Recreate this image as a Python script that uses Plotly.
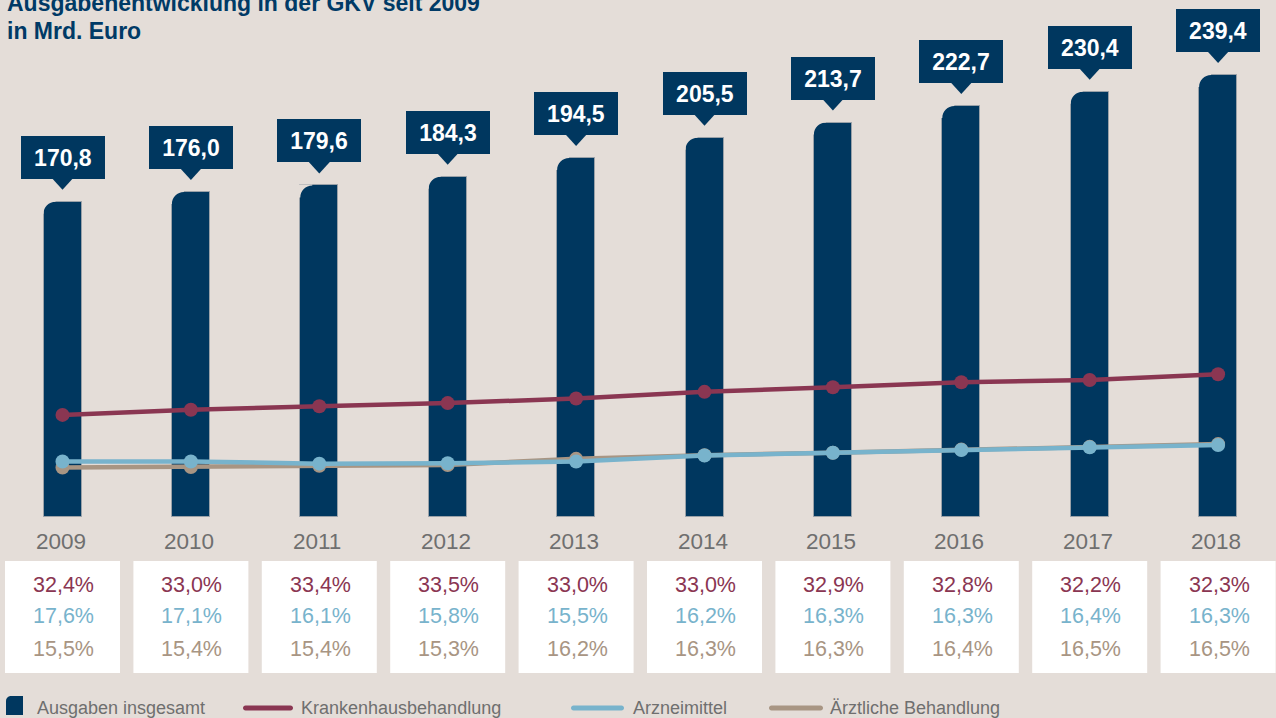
import plotly.graph_objects as go

# ---------------- data ----------------
years = [2009, 2010, 2011, 2012, 2013, 2014, 2015, 2016, 2017, 2018]
totals = [170.8, 176.0, 179.6, 184.3, 194.5, 205.5, 213.7, 222.7, 230.4, 239.4]
krankenhaus = [55.3, 58.1, 60.0, 61.7, 64.2, 67.8, 70.3, 73.0, 74.2, 77.3]
arzneimittel = [30.1, 30.1, 28.9, 29.1, 30.1, 33.3, 34.8, 36.3, 37.8, 39.0]
aerztlich = [26.8, 27.1, 27.7, 28.2, 31.5, 33.5, 34.8, 36.5, 38.0, 39.5]
pct_krankenhaus = [32.4, 33.0, 33.4, 33.5, 33.0, 33.0, 32.9, 32.8, 32.2, 32.3]
pct_arznei = [17.6, 17.1, 16.1, 15.8, 15.5, 16.2, 16.3, 16.3, 16.4, 16.3]
pct_aerztlich = [15.5, 15.4, 15.4, 15.3, 16.2, 16.3, 16.3, 16.4, 16.5, 16.5]
series_names = ["Ausgaben insgesamt", "Krankenhausbehandlung", "Arzneimittel", "Ärztliche Behandlung"]
title_lines = ["Ausgabenentwicklung in der GKV seit 2009", "in Mrd. Euro"]

# ---------------- style ----------------
W, H = 1276, 718
BG = "#e4ddd8"
NAVY = "#00375f"
MAROON = "#8a3652"
BLUE = "#78b3cc"
TAN = "#a89583"
GREY = "#6f6f6f"
FONT = "Liberation Sans, Arial, Helvetica, sans-serif"

def de(v, d=1):
    return f"{v:.{d}f}".replace(".", ",")

PX_PER_YEAR = 128.4
X0_PX = 62.5
x_range = [years[0] - X0_PX / PX_PER_YEAR, years[0] + (W - X0_PX) / PX_PER_YEAR]
ZERO_PX = 517
PX_PER_UNIT = 1.846
y_domain = [1 - ZERO_PX / H, 1]
y_range = [0, ZERO_PX / PX_PER_UNIT]

def py(px):
    return 1 - px / H

def pxx(px):
    return px / W

fig = go.Figure()

fig.add_trace(go.Bar(
    x=years, y=totals, width=38 / PX_PER_YEAR, name=series_names[0],
    marker=dict(color=NAVY, line=dict(color="#9aa1a8", width=1)),
    showlegend=False, hoverinfo="x+y"))

for vals, col, nm in [(krankenhaus, MAROON, series_names[1]),
                      (aerztlich, TAN, series_names[3]),
                      (arzneimittel, BLUE, series_names[2])]:
    fig.add_trace(go.Scatter(
        x=years, y=vals, mode="lines+markers", name=nm,
        line=dict(color=col, width=4.5),
        marker=dict(color=col, size=14),
        showlegend=False))

shapes = []
annotations = []

# bars: rounded top-left corner mask, value boxes with pointer
for yr, tot in zip(years, totals):
    shapes.append(dict(type="path", xref="x", yref="y", xsizemode="pixel", ysizemode="pixel",
                       xanchor=yr, yanchor=tot,
                       path="M-21,1 L-7,1 L-7,0 C-13.63,0 -19,-5.37 -19,-12 L-21,-12 Z",
                       fillcolor=BG, line=dict(width=0), layer="above"))
    shapes.append(dict(type="path", xref="x", yref="y", xsizemode="pixel", ysizemode="pixel",
                       xanchor=yr, yanchor=tot,
                       path="M-10.5,23.5 L10.5,23.5 L0,12 Z",
                       fillcolor=NAVY, line=dict(width=0), layer="above"))
    annotations.append(dict(x=yr, y=tot, xref="x", yref="y", yanchor="bottom", yshift=23,
                            text=f"<b>{de(tot)}</b>", showarrow=False,
                            width=84, height=43, bgcolor=NAVY, borderpad=0, borderwidth=0,
                            font=dict(family=FONT, size=23, color="white")))

# year labels and percentage table
for i, yr in enumerate(years):
    annotations.append(dict(x=yr, y=py(541), xref="x", yref="paper", yanchor="middle", xshift=-2,
                            text=str(yr), showarrow=False,
                            font=dict(family=FONT, size=22.5, color=GREY)))
    shapes.append(dict(type="rect", xref="x", yref="paper",
                       x0=yr - 57.5 / PX_PER_YEAR, x1=yr + 57.5 / PX_PER_YEAR,
                       y0=py(673), y1=py(561), fillcolor="white", line=dict(width=0), layer="below"))
    for vals, col, ypx in [(pct_krankenhaus, MAROON, 585), (pct_arznei, BLUE, 616), (pct_aerztlich, TAN, 648.5)]:
        annotations.append(dict(x=yr, y=py(ypx), xref="x", yref="paper", yanchor="middle", xshift=1,
                                text=de(vals[i]) + "%", showarrow=False,
                                font=dict(family=FONT, size=21.5, color=col)))

# title
annotations.append(dict(x=pxx(6), y=py(2.8), xref="paper", yref="paper", xanchor="left", yanchor="middle",
                        text=f"<b>{title_lines[0]}</b>", showarrow=False, borderpad=0,
                        font=dict(family=FONT, size=23, color="#003a66")))
annotations.append(dict(x=pxx(6), y=py(31.2), xref="paper", yref="paper", xanchor="left", yanchor="middle",
                        text=f"<b>{title_lines[1]}</b>", showarrow=False, borderpad=0,
                        font=dict(family=FONT, size=23, color="#003a66")))

# manual legend (pixel coords from bottom-left, y up)
def pill(x0, x1, c, h=2.5):
    k = h * 0.5523
    return (f"M{x0+h},{c-h} L{x1-h},{c-h} C{x1-h+k},{c-h} {x1},{c-k} {x1},{c} "
            f"C{x1},{c+k} {x1-h+k},{c+h} {x1-h},{c+h} L{x0+h},{c+h} "
            f"C{x0+h-k},{c+h} {x0},{c+k} {x0},{c} C{x0},{c-k} {x0+h-k},{c-h} {x0+h},{c-h} Z")

leg_c = H - 708
shapes.append(dict(type="path", xref="paper", yref="paper", xsizemode="pixel", ysizemode="pixel",
                   xanchor=0, yanchor=0, path="M6,3 L23,3 L23,22 L11,22 C8.2,22 6,19.8 6,17 Z",
                   fillcolor=NAVY, line=dict(width=0)))
for (x0, x1), col in [((243, 293), MAROON), ((571, 624), BLUE), ((769, 823), TAN)]:
    shapes.append(dict(type="path", xref="paper", yref="paper", xsizemode="pixel", ysizemode="pixel",
                       xanchor=0, yanchor=0, path=pill(x0, x1, leg_c),
                       fillcolor=col, line=dict(width=0)))
for nm, xl in zip(series_names, [36, 300, 632, 829]):
    annotations.append(dict(x=pxx(xl), y=py(708), xref="paper", yref="paper", xanchor="left", yanchor="middle",
                            text=nm, showarrow=False, borderpad=0,
                            font=dict(family=FONT, size=18, color=GREY)))

fig.update_layout(
    width=W, height=H,
    margin=dict(l=0, r=0, t=0, b=0),
    paper_bgcolor=BG, plot_bgcolor=BG,
    showlegend=False,
    bargap=0,
    xaxis=dict(range=x_range, visible=False, fixedrange=True),
    yaxis=dict(range=y_range, domain=y_domain, visible=False, fixedrange=True),
    shapes=shapes, annotations=annotations,
)

fig.write_html(
    "out.html",
    config={"displayModeBar": False},
    post_script="document.body.style.margin='0';document.body.style.padding='0';"
                "document.body.style.overflow='hidden';",
)
